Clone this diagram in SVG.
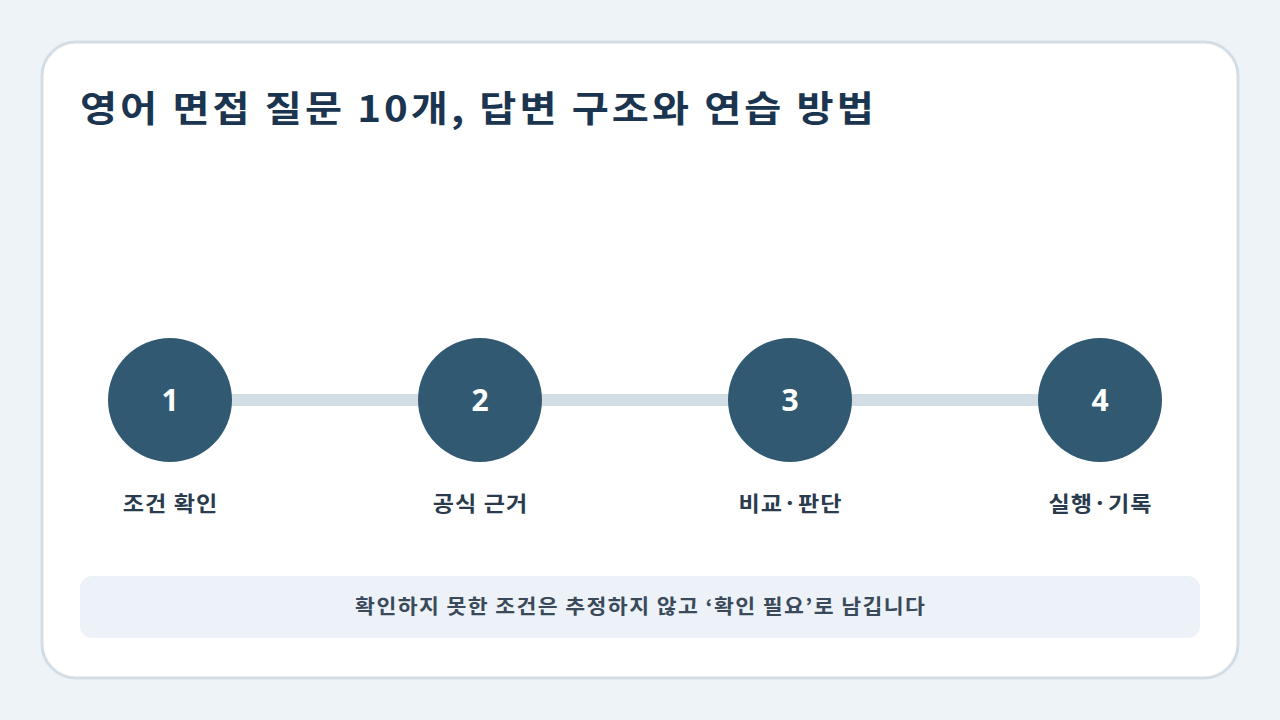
<svg xmlns="http://www.w3.org/2000/svg" width="1280" height="720" viewBox="0 0 1280 720">
<style>
text{font-family:"Noto Sans CJK KR","Noto Sans",sans-serif;}
.node circle{fill:#315a72;}
.num{fill:#ffffff;font-size:30px;font-weight:700;text-anchor:middle;font-family:"Open Sans","Noto Sans",sans-serif;}
.lbl{fill:#2a3b4d;font-size:21px;font-weight:700;text-anchor:middle;letter-spacing:1px;}
</style>
<rect width="1280" height="720" fill="#eef3f8"/>
<rect x="42" y="42" width="1196" height="636" rx="34" fill="#ffffff" stroke="#d3dde6" stroke-width="3"/>
<g id="title" transform="translate(80,122) scale(1.12,1)">
<text x="0" y="0" font-size="36" font-weight="700" fill="#1b3550" letter-spacing="2.7">영어 면접 질문 10개, 답변 구조와 연습 방법</text>
</g>
<g id="connectors">
<rect x="170" y="394" width="930" height="12" fill="#d3dde6"/>
</g>
<g id="node1" class="node"><circle cx="170" cy="400" r="62"/><text class="num" x="170" y="411">1</text><text class="lbl" transform="translate(170.5,511) scale(1.1,1)">조건 확인</text></g>
<g id="node2" class="node"><circle cx="480" cy="400" r="62"/><text class="num" x="480" y="411">2</text><text class="lbl" transform="translate(480.5,511) scale(1.1,1)">공식 근거</text></g>
<g id="node3" class="node"><circle cx="790" cy="400" r="62"/><text class="num" x="790" y="411">3</text><text class="lbl" transform="translate(790.5,511) scale(1.1,1)">비교·판단</text></g>
<g id="node4" class="node"><circle cx="1100" cy="400" r="62"/><text class="num" x="1100" y="411">4</text><text class="lbl" transform="translate(1100.5,511) scale(1.1,1)">실행·기록</text></g>
<g id="note">
<rect x="80" y="576" width="1120" height="62" rx="12" fill="#edf2f8"/>
<text transform="translate(640.7,614) scale(1.08,1)" font-size="20" font-weight="700" fill="#3a4a5b" text-anchor="middle" letter-spacing="1.3">확인하지 못한 조건은 추정하지 않고 ‘확인 필요’로 남깁니다</text>
</g>
</svg>
